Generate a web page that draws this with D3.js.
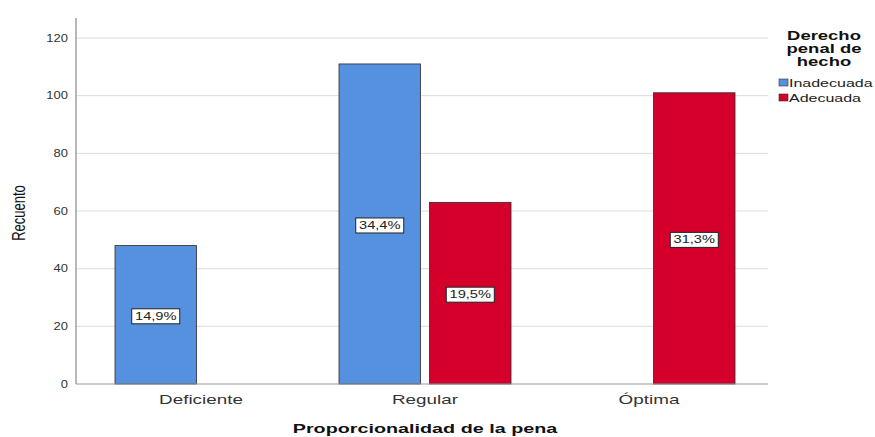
<!DOCTYPE html>
<html>
<head>
<meta charset="utf-8">
<script src="https://cdn.jsdelivr.net/npm/d3@7"></script>
<style>
  body { margin: 0; background: #fff; }
  text { font-family: "Liberation Sans", Arial, sans-serif; }
</style>
</head>
<body>
<div id="chart-container"></div>
<script>
// data
const categories = ["Deficiente", "Regular", "Óptima"];
const series = ["Inadecuada", "Adecuada"];
const inadecuada = [48, 111, 0];
const adecuada = [0, 63, 101];
const yTicks = [0, 20, 40, 60, 80, 100, 120];
const total = 323;

const colors = {Inadecuada: "#5591df", Adecuada: "#d4002b"};

const W = 875, H = 437;
const plot = {left: 76, right: 768, top: 18, bottom: 384};
// the original picture is stretched sideways, so text is widened too
const stretch = 1.45;

const svg = d3.select("#chart-container")
  .append("svg")
    .attr("width", W)
    .attr("height", H);

const x = d3.scaleBand().domain(categories).range([89, 761]).padding(0);
const xSub = d3.scaleBand().domain(series).range([26, 198]).paddingInner(0.1).paddingOuter(0);
const y = d3.scaleLinear().domain([0, 120]).range([plot.bottom, 38]);

// grid lines
svg.append("g")
  .selectAll("line")
  .data(yTicks.filter(d => d > 0))
  .join("line")
    .attr("x1", plot.left)
    .attr("x2", plot.right)
    .attr("y1", d => y(d))
    .attr("y2", d => y(d))
    .attr("stroke", "#dcdcdc")
    .attr("stroke-width", 1);

// y axis
const yAxis = svg.append("g")
  .attr("transform", `translate(${plot.left},0)`)
  .call(d3.axisLeft(y).tickValues(yTicks).tickSize(0).tickPadding(8));
yAxis.select(".domain").remove();
yAxis.selectAll(".tick text")
  .style("font-size", "10px")
  .attr("fill", "#333")
  .attr("transform", "translate(-8,0) scale(1.3,1) translate(8,0)");
svg.append("line")
  .attr("x1", plot.left).attr("x2", plot.left)
  .attr("y1", plot.top).attr("y2", plot.bottom)
  .attr("stroke", "#888").attr("stroke-width", 1.2);

// bars
const rows = [];
categories.forEach((c, i) => {
  rows.push({cat: c, s: "Inadecuada", v: inadecuada[i]});
  rows.push({cat: c, s: "Adecuada", v: adecuada[i]});
});
const bars = rows.filter(d => d.v > 0);

svg.append("g")
  .selectAll("rect")
  .data(bars)
  .join("rect")
    .attr("x", d => x(d.cat) + xSub(d.s))
    .attr("y", d => y(d.v))
    .attr("width", xSub.bandwidth())
    .attr("height", d => y(0) - y(d.v))
    .attr("fill", d => colors[d.s])
    .attr("stroke", "#2a2a2a")
    .attr("stroke-width", 0.8);

// x axis baseline
svg.append("line")
  .attr("x1", plot.left).attr("x2", plot.right)
  .attr("y1", plot.bottom).attr("y2", plot.bottom)
  .attr("stroke", "#999").attr("stroke-width", 1);

// percentage labels
const fmt = v => (v / total * 100).toFixed(1).replace(".", ",") + "%";
const labels = svg.append("g")
  .selectAll("g")
  .data(bars)
  .join("g")
    .attr("transform", d => `translate(${x(d.cat) + xSub(d.s) + xSub.bandwidth() / 2},${(y(d.v) + y(0)) / 2 + 1})`);
labels.append("rect")
  .attr("x", -24).attr("y", -7)
  .attr("width", 48).attr("height", 15)
  .attr("fill", "#fff")
  .attr("stroke", "#222")
  .attr("stroke-width", 1);
labels.append("text")
  .attr("text-anchor", "middle")
  .attr("dy", "0.36em")
  .attr("transform", "scale(1.33,1)")
  .style("font-size", "11px")
  .attr("fill", "#222")
  .text(d => fmt(d.v));

// x tick labels
svg.append("g")
  .selectAll("text")
  .data(categories)
  .join("text")
    .attr("transform", d => `translate(${x(d) + x.bandwidth() / 2},404) scale(${stretch},1)`)
    .attr("text-anchor", "middle")
    .style("font-size", "13px")
    .attr("fill", "#333")
    .text(d => d);

// axis titles
svg.append("text")
  .attr("transform", `translate(425,433) scale(1.52,1)`)
  .attr("text-anchor", "middle")
  .style("font-size", "13px")
  .style("font-weight", "bold")
  .attr("fill", "#111")
  .text("Proporcionalidad de la pena");

svg.append("text")
  .attr("transform", `translate(25,213) scale(1.4,1) rotate(-90)`)
  .attr("text-anchor", "middle")
  .style("font-size", "13px")
  .attr("fill", "#111")
  .text("Recuento");

// legend
const legendTitle = ["Derecho", "penal de", "hecho"];
svg.append("g")
  .selectAll("text")
  .data(legendTitle)
  .join("text")
    .attr("transform", (d, i) => `translate(824,${40 + i * 13}) scale(1.42,1)`)
    .attr("text-anchor", "middle")
    .style("font-size", "13px")
    .style("font-weight", "bold")
    .attr("fill", "#111")
    .text(d => d);

const legend = svg.append("g")
  .selectAll("g")
  .data(series)
  .join("g")
    .attr("transform", (d, i) => `translate(779,${79 + i * 15})`);
legend.append("rect")
  .attr("width", 9).attr("height", 7)
  .attr("fill", d => colors[d])
  .attr("stroke", "#333")
  .attr("stroke-width", 0.6);
legend.append("text")
  .attr("transform", "translate(10,8) scale(1.6,1)")
  .style("font-size", "10px")
  .attr("fill", "#222")
  .text(d => d);
</script>
</body>
</html>
